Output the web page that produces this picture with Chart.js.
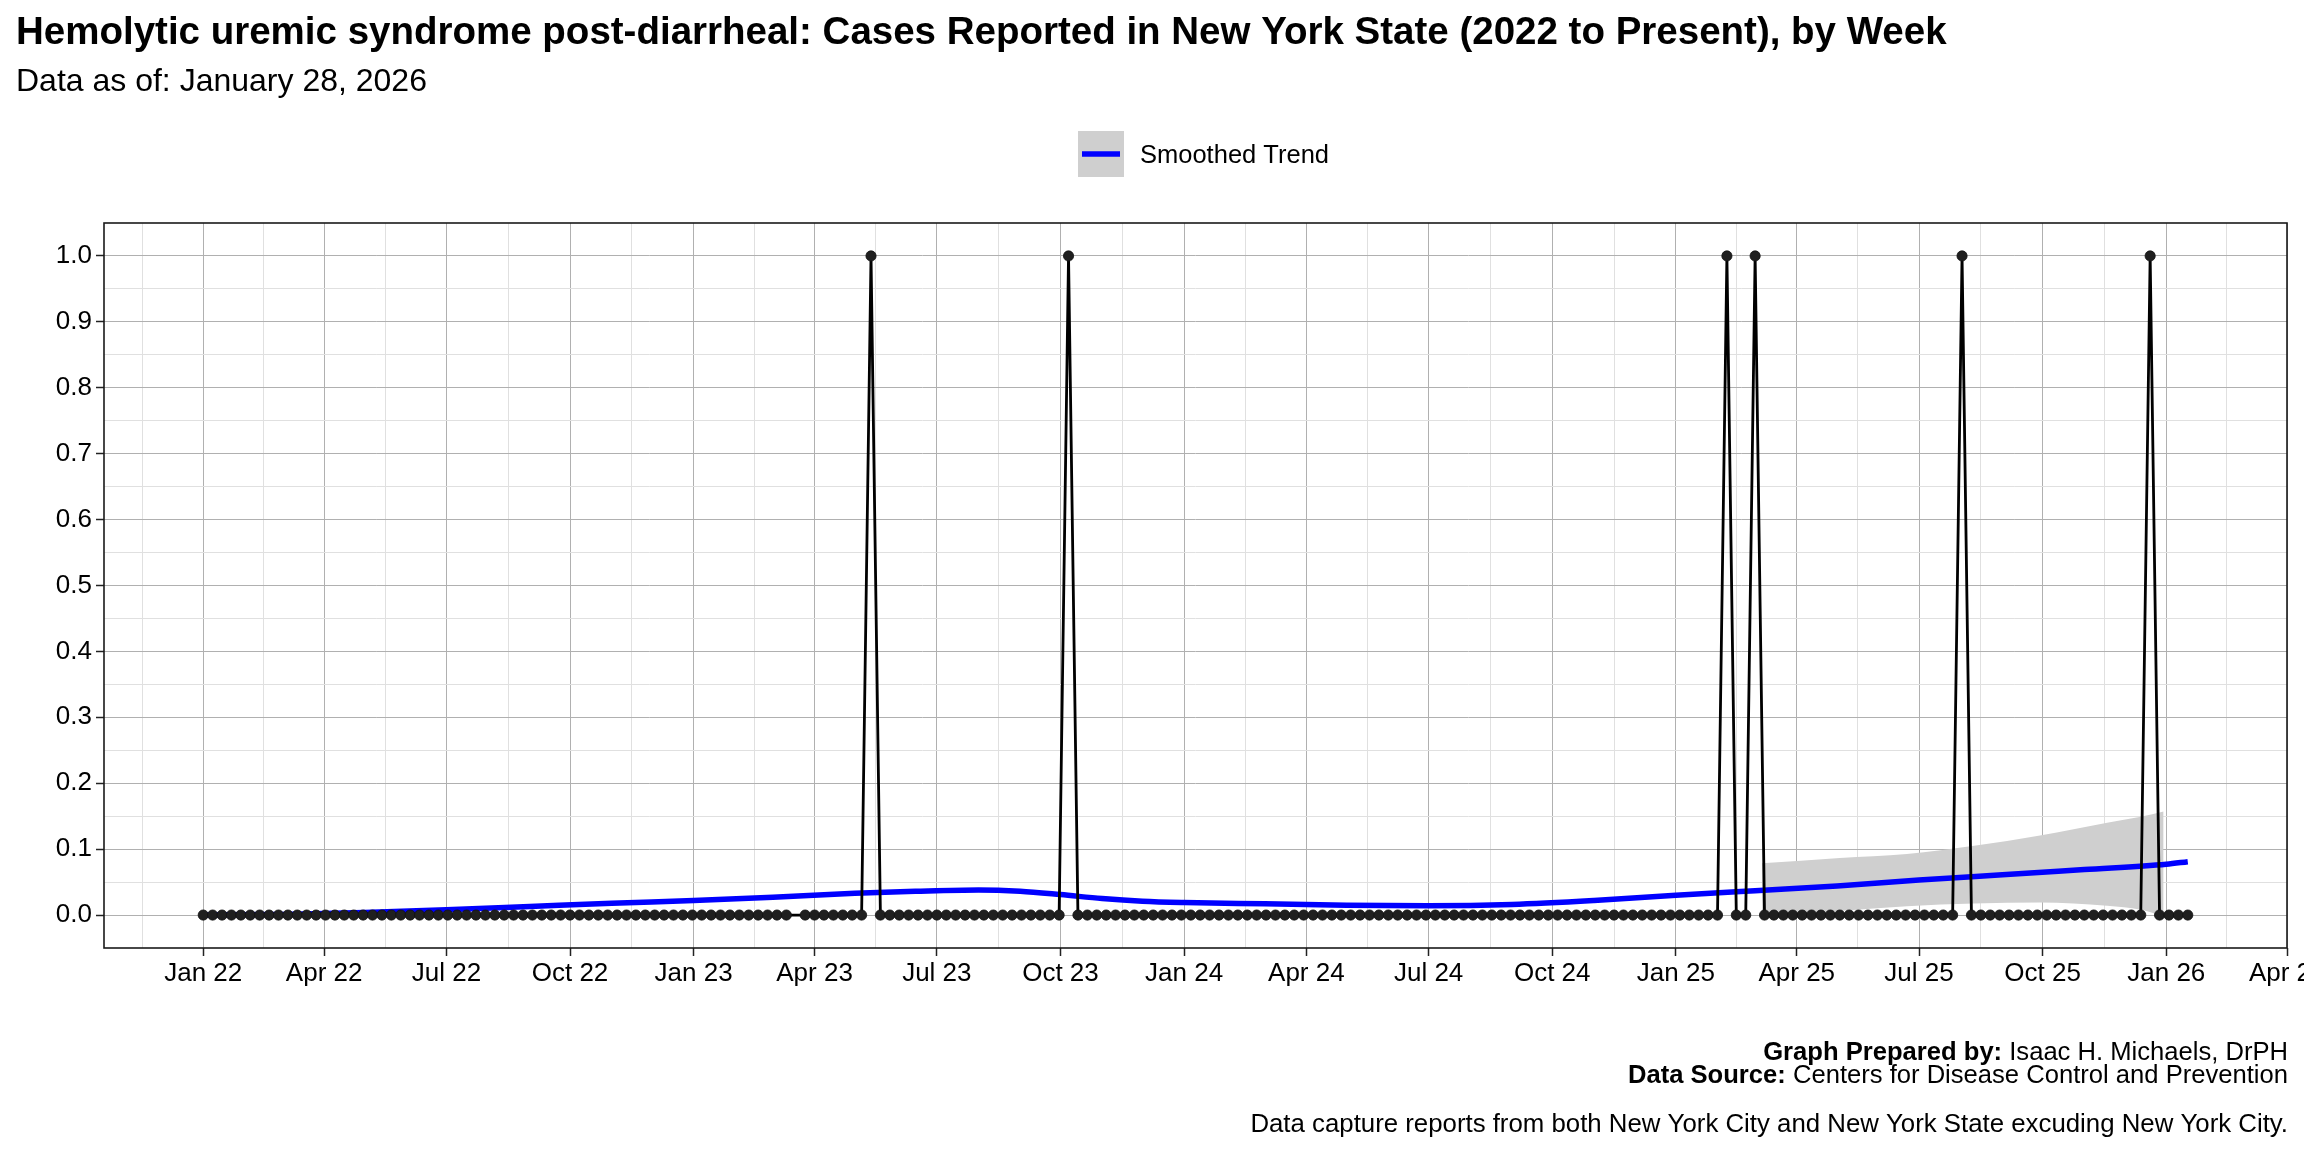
<!DOCTYPE html>
<html>
<head>
<meta charset="utf-8">
<script src="https://cdn.jsdelivr.net/npm/chart.js@4.4.1/dist/chart.umd.min.js"></script>
<style>
html,body{margin:0;padding:0;background:#fff;overflow:hidden}
canvas{display:block}
</style>
</head>
<body>
<canvas id="chart" width="2304" height="1152"></canvas>
<script>
// ---------------- text ----------------
const titleText = 'Hemolytic uremic syndrome post-diarrheal: Cases Reported in New York State (2022 to Present), by Week';
const subtitleText = 'Data as of: January 28, 2026';
const legendLabel = 'Smoothed Trend';
const captionLines = [
  ['Graph Prepared by: ', 'Isaac H. Michaels, DrPH'],
  ['Data Source: ', 'Centers for Disease Control and Prevention']
];
const footnoteText = 'Data capture reports from both New York City and New York State excuding New York City.';

// ---------------- weekly data (week ending) ----------------
const weeks2022 = [
  '2022-01-01','2022-01-08','2022-01-15','2022-01-22','2022-01-29',
  '2022-02-05','2022-02-12','2022-02-19','2022-02-26',
  '2022-03-05','2022-03-12','2022-03-19','2022-03-26',
  '2022-04-02','2022-04-09','2022-04-16','2022-04-23','2022-04-30',
  '2022-05-07','2022-05-14','2022-05-21','2022-05-28',
  '2022-06-04','2022-06-11','2022-06-18','2022-06-25',
  '2022-07-02','2022-07-09','2022-07-16','2022-07-23','2022-07-30',
  '2022-08-06','2022-08-13','2022-08-20','2022-08-27',
  '2022-09-03','2022-09-10','2022-09-17','2022-09-24',
  '2022-10-01','2022-10-08','2022-10-15','2022-10-22','2022-10-29',
  '2022-11-05','2022-11-12','2022-11-19','2022-11-26',
  '2022-12-03','2022-12-10','2022-12-17','2022-12-24','2022-12-31'
];
const cases2022 = [
  0,0,0,0,0, 0,0,0,0, 0,0,0,0, 0,0,0,0,0, 0,0,0,0, 0,0,0,0,
  0,0,0,0,0, 0,0,0,0, 0,0,0,0, 0,0,0,0,0, 0,0,0,0, 0,0,0,0,0
];
const weeks2023 = [
  '2023-01-07','2023-01-14','2023-01-21','2023-01-28',
  '2023-02-04','2023-02-11','2023-02-18','2023-02-25',
  '2023-03-04','2023-03-11','2023-03-25',
  '2023-04-01','2023-04-08','2023-04-15','2023-04-22','2023-04-29',
  '2023-05-06','2023-05-13','2023-05-20','2023-05-27',
  '2023-06-03','2023-06-10','2023-06-17','2023-06-24',
  '2023-07-01','2023-07-08','2023-07-15','2023-07-22','2023-07-29',
  '2023-08-05','2023-08-12','2023-08-19','2023-08-26',
  '2023-09-02','2023-09-09','2023-09-16','2023-09-23','2023-09-30',
  '2023-10-07','2023-10-14','2023-10-21','2023-10-28',
  '2023-11-04','2023-11-11','2023-11-18','2023-11-25',
  '2023-12-02','2023-12-09','2023-12-16','2023-12-23','2023-12-30'
];
const cases2023 = [
  0,0,0,0, 0,0,0,0, 0,0,0, 0,0,0,0,0, 0,1,0,0, 0,0,0,0,
  0,0,0,0,0, 0,0,0,0, 0,0,0,0,0, 1,0,0,0, 0,0,0,0, 0,0,0,0,0
];
const weeks2024 = [
  '2024-01-06','2024-01-13','2024-01-20','2024-01-27',
  '2024-02-03','2024-02-10','2024-02-17','2024-02-24',
  '2024-03-02','2024-03-09','2024-03-16','2024-03-23','2024-03-30',
  '2024-04-06','2024-04-13','2024-04-20','2024-04-27',
  '2024-05-04','2024-05-11','2024-05-18','2024-05-25',
  '2024-06-01','2024-06-08','2024-06-15','2024-06-22','2024-06-29',
  '2024-07-06','2024-07-13','2024-07-20','2024-07-27',
  '2024-08-03','2024-08-10','2024-08-17','2024-08-24','2024-08-31',
  '2024-09-07','2024-09-14','2024-09-21','2024-09-28',
  '2024-10-05','2024-10-12','2024-10-19','2024-10-26',
  '2024-11-02','2024-11-09','2024-11-16','2024-11-23','2024-11-30',
  '2024-12-07','2024-12-14','2024-12-21','2024-12-28'
];
const cases2024 = [
  0,0,0,0, 0,0,0,0, 0,0,0,0,0, 0,0,0,0, 0,0,0,0, 0,0,0,0,0,
  0,0,0,0, 0,0,0,0,0, 0,0,0,0, 0,0,0,0, 0,0,0,0,0, 0,0,0,0
];
const weeks2025 = [
  '2025-01-04','2025-01-11','2025-01-18','2025-01-25',
  '2025-02-01','2025-02-08','2025-02-15','2025-02-22',
  '2025-03-01','2025-03-08','2025-03-15','2025-03-22','2025-03-29',
  '2025-04-05','2025-04-12','2025-04-19','2025-04-26',
  '2025-05-03','2025-05-10','2025-05-17','2025-05-24','2025-05-31',
  '2025-06-07','2025-06-14','2025-06-21','2025-06-28',
  '2025-07-05','2025-07-12','2025-07-19','2025-07-26',
  '2025-08-02','2025-08-09','2025-08-16','2025-08-23','2025-08-30',
  '2025-09-06','2025-09-13','2025-09-20','2025-09-27',
  '2025-10-04','2025-10-11','2025-10-18','2025-10-25',
  '2025-11-01','2025-11-08','2025-11-15','2025-11-22','2025-11-29',
  '2025-12-06','2025-12-13','2025-12-20','2025-12-27'
];
const cases2025 = [
  0,0,0,0, 0,1,0,0, 1,0,0,0,0, 0,0,0,0, 0,0,0,0,0, 0,0,0,0,
  0,0,0,0, 1,0,0,0,0, 0,0,0,0, 0,0,0,0, 0,0,0,0,0, 0,0,1,0
];
const weeks2026 = ['2026-01-03','2026-01-10','2026-01-17'];
const cases2026 = [0,0,0];

// ---------------- smoothed trend ----------------
const trendDates = [
  '2022-01-01','2022-03-01','2022-05-01','2022-07-01','2022-09-01','2022-11-01',
  '2023-01-01','2023-03-01','2023-05-01','2023-06-15','2023-08-01','2023-09-01',
  '2023-10-01','2023-11-01','2023-12-01','2024-01-01','2024-03-01','2024-05-01',
  '2024-07-01','2024-09-01','2024-11-01','2025-01-01','2025-03-01','2025-05-01',
  '2025-07-01','2025-09-01','2025-11-01','2026-01-01','2026-01-17'
];
const trendValues = [
  0.000,0.001,0.004,0.008,0.013,0.018,
  0.022,0.027,0.033,0.036,0.038,0.036,
  0.031,0.025,0.021,0.019,0.017,0.015,
  0.014,0.016,0.022,0.030,0.037,0.044,
  0.053,0.061,0.069,0.077,0.081
];
// confidence band
const bandDates = ['2025-03-06','2025-05-03','2025-06-22','2025-08-11','2025-09-29','2025-11-18','2025-12-13','2025-12-30'];
const bandUpper = [0.0785,0.0866,0.0927,0.105,0.1206,0.140,0.149,0.157];
const bandLower = [-0.005,0.006,0.0135,0.0175,0.019,0.014,0.008,-0.002];

// ---------------- axis ticks ----------------
const xTickDates = ['2022-01-01','2022-04-01','2022-07-01','2022-10-01','2023-01-01','2023-04-01','2023-07-01','2023-10-01',
  '2024-01-01','2024-04-01','2024-07-01','2024-10-01','2025-01-01','2025-04-01','2025-07-01','2025-10-01','2026-01-01','2026-04-01'];
const xTickLabels = ['Jan 22','Apr 22','Jul 22','Oct 22','Jan 23','Apr 23','Jul 23','Oct 23',
  'Jan 24','Apr 24','Jul 24','Oct 24','Jan 25','Apr 25','Jul 25','Oct 25','Jan 26','Apr 26'];
const yTickValues = [0,0.1,0.2,0.3,0.4,0.5,0.6,0.7,0.8,0.9,1.0];
const yTickLabels = ['0.0','0.1','0.2','0.3','0.4','0.5','0.6','0.7','0.8','0.9','1.0'];

// ---------------- build ----------------
const FAM = '"Liberation Sans", Arial, Helvetica, sans-serif';
const toX = s => Date.parse(s + 'T00:00:00Z');

const weekDates = [].concat(weeks2022, weeks2023, weeks2024, weeks2025, weeks2026);
const weekCases = [].concat(cases2022, cases2023, cases2024, cases2025, cases2026);

const casePoints = weekDates.map((d, i) => ({x: toX(d), y: weekCases[i]}));
const trendPoints = trendDates.map((d, i) => ({x: toX(d), y: trendValues[i]}));
const upperPoints = bandDates.map((d, i) => ({x: toX(d), y: bandUpper[i]}));
const lowerPoints = bandDates.map((d, i) => ({x: toX(d), y: bandLower[i]}));

const firstX = toX(weekDates[0]);
const lastX = toX(weekDates[weekDates.length - 1]);
const span = lastX - firstX;
const xMin = firstX - 0.05 * span;
const xMax = lastX + 0.05 * span;

// major + minor x ticks (minor halfway between majors)
const xMajor = xTickDates.map(toX);
const xTicks = [];
xTicks.push({value: xMajor[0] - (xMajor[1] - xMajor[0]) / 2, isMajor: false});
xMajor.forEach((v, i) => {
  xTicks.push({value: v, isMajor: true, label: xTickLabels[i]});
  if (i < xMajor.length - 1) xTicks.push({value: (v + xMajor[i + 1]) / 2, isMajor: false});
});
const yTicks = [];
yTickValues.forEach((v, i) => {
  yTicks.push({value: v, isMajor: true, label: yTickLabels[i]});
  if (i < yTickValues.length - 1) yTicks.push({value: (v + yTickValues[i + 1]) / 2, isMajor: false});
});

const MAJOR_GRID = '#b0b0b0';
const MINOR_GRID = '#e0e0e0';

const bgPlugin = {
  id: 'bg',
  beforeDraw(chart) {
    const c = chart.ctx;
    c.save();
    c.fillStyle = '#ffffff';
    c.fillRect(0, 0, chart.width, chart.height);
    c.restore();
  }
};

const framePlugin = {
  id: 'frame',
  afterDatasetsDraw(chart) {
    const {ctx, chartArea: a} = chart;
    ctx.save();
    ctx.strokeStyle = '#1a1a1a';
    ctx.lineWidth = 1.6;
    ctx.strokeRect(a.left, a.top, a.right - a.left, a.bottom - a.top);
    ctx.restore();
  }
};

const textPlugin = {
  id: 'texts',
  afterDraw(chart) {
    const ctx = chart.ctx;
    ctx.save();
    ctx.fillStyle = '#000';
    ctx.textBaseline = 'alphabetic';
    ctx.textAlign = 'left';
    ctx.font = 'bold 38.5px ' + FAM;
    ctx.fillText(titleText, 16, 44);
    ctx.font = '32px ' + FAM;
    ctx.fillText(subtitleText, 16, 91);

    // legend
    const kx = 1078, ky = 131, ks = 46;
    ctx.fillStyle = '#cfcfcf';
    ctx.fillRect(kx, ky, ks, ks);
    ctx.strokeStyle = '#0000ff';
    ctx.lineWidth = 5.5;
    ctx.beginPath();
    ctx.moveTo(kx + 4, ky + ks / 2);
    ctx.lineTo(kx + ks - 4, ky + ks / 2);
    ctx.stroke();
    ctx.fillStyle = '#000';
    ctx.font = '25.5px ' + FAM;
    ctx.fillText(legendLabel, 1140, 163);

    // captions (right aligned)
    const right = 2288;
    const baselines = [1060, 1083];
    ctx.textAlign = 'right';
    captionLines.forEach((pair, i) => {
      ctx.font = '25.6px ' + FAM;
      const w = ctx.measureText(pair[1]).width;
      ctx.fillText(pair[1], right, baselines[i]);
      ctx.font = 'bold 25.6px ' + FAM;
      ctx.fillText(pair[0], right - w, baselines[i]);
    });
    ctx.font = '25.8px ' + FAM;
    ctx.fillText(footnoteText, right, 1132);
    ctx.restore();
  }
};

Chart.defaults.font.family = FAM;

new Chart(document.getElementById('chart'), {
  type: 'line',
  data: {
    datasets: [
      {
        label: 'band-upper',
        data: upperPoints,
        borderWidth: 0,
        borderColor: 'rgba(0,0,0,0)',
        backgroundColor: '#cfcfcf',
        pointRadius: 0,
        fill: '+1',
        cubicInterpolationMode: 'monotone',
        order: 5
      },
      {
        label: 'band-lower',
        data: lowerPoints,
        borderWidth: 0,
        borderColor: 'rgba(0,0,0,0)',
        pointRadius: 0,
        fill: false,
        cubicInterpolationMode: 'monotone',
        order: 5
      },
      {
        label: legendLabel,
        data: trendPoints,
        borderColor: '#0000ff',
        borderWidth: 5.5,
        pointRadius: 0,
        fill: false,
        cubicInterpolationMode: 'monotone',
        order: 3
      },
      {
        label: 'Cases',
        data: casePoints,
        borderColor: '#000000',
        borderWidth: 2.8,
        tension: 0,
        pointRadius: 5.1,
        pointBackgroundColor: '#1f1f1f',
        pointBorderColor: '#111111',
        pointBorderWidth: 0.8,
        fill: false,
        order: 1
      }
    ]
  },
  options: {
    responsive: false,
    animation: false,
    devicePixelRatio: 1,
    events: [],
    layout: {padding: {top: 223, left: 0, right: 17, bottom: 154}},
    plugins: {
      legend: {display: false},
      title: {display: false},
      tooltip: {enabled: false}
    },
    scales: {
      x: {
        type: 'linear',
        min: xMin,
        max: xMax,
        afterBuildTicks: (scale) => { scale.ticks = xTicks.map(t => ({...t})); },
        afterFit: (scale) => { scale.height = 50; scale.paddingLeft = 0; scale.paddingRight = 0; },
        ticks: {
          autoSkip: false,
          maxRotation: 0,
          minRotation: 0,
          padding: 2,
          color: '#000',
          font: {family: FAM, size: 26},
          callback: (v, i) => xTicks[i] && xTicks[i].isMajor ? xTicks[i].label : ''
        },
        grid: {
          color: (c) => (c.tick && c.tick.isMajor) ? MAJOR_GRID : MINOR_GRID,
          lineWidth: 1,
          drawTicks: true,
          tickLength: 8,
          tickWidth: 1.5,
          tickColor: (c) => (c.tick && c.tick.isMajor) ? '#222' : 'rgba(0,0,0,0)'
        },
        border: {display: false}
      },
      y: {
        type: 'linear',
        min: -0.05,
        max: 1.05,
        afterBuildTicks: (scale) => { scale.ticks = yTicks.map(t => ({...t})); },
        afterFit: (scale) => { scale.width = 104; scale.paddingTop = 0; scale.paddingBottom = 0; },
        ticks: {
          autoSkip: false,
          padding: 4,
          color: '#000',
          font: {family: FAM, size: 26},
          callback: (v, i) => yTicks[i] && yTicks[i].isMajor ? yTicks[i].label : ''
        },
        grid: {
          color: (c) => (c.tick && c.tick.isMajor) ? MAJOR_GRID : MINOR_GRID,
          lineWidth: 1,
          drawTicks: true,
          tickLength: 8,
          tickWidth: 1.5,
          tickColor: (c) => (c.tick && c.tick.isMajor) ? '#222' : 'rgba(0,0,0,0)'
        },
        border: {display: false}
      }
    }
  },
  plugins: [bgPlugin, framePlugin, textPlugin]
});
</script>
</body>
</html>
